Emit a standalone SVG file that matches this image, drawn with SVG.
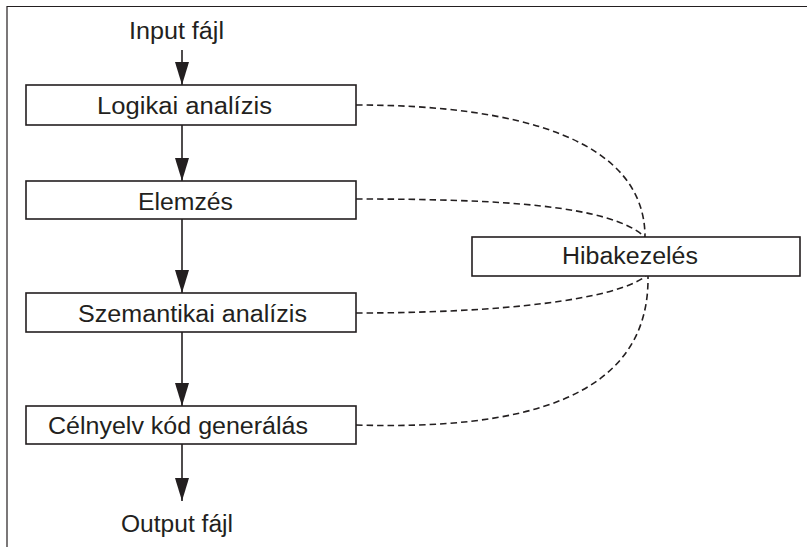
<svg xmlns="http://www.w3.org/2000/svg" width="807" height="547" viewBox="0 0 807 547">
<style>
.box{fill:#fff;stroke:#231f20;stroke-width:1.6}
.lbl{font-family:"Liberation Sans",Arial,sans-serif;font-size:23px;fill:#231f20;text-anchor:middle}
.flow{stroke:#231f20;stroke-width:1.6;fill:none;marker-end:url(#ah)}
.err{stroke:#231f20;stroke-width:1.6;fill:none;stroke-dasharray:6.5 4}
.frame{stroke:#231f20;stroke-width:1.2;fill:none}
</style>
<defs>
<marker id="ah" markerUnits="userSpaceOnUse" markerWidth="24" markerHeight="16" refX="23" refY="7" orient="auto">
<path d="M0,0 L23,7 L0,14 Z" fill="#231f20"/>
</marker>
</defs>
<rect width="807" height="547" fill="#fff"/>
<path class="frame" d="M7,547 V6.5 H807"/>
<g id="connectors">
<line class="flow" x1="182" y1="50" x2="182" y2="85"/>
<line class="flow" x1="182" y1="125" x2="182" y2="181"/>
<line class="flow" x1="182" y1="219" x2="182" y2="293"/>
<line class="flow" x1="182" y1="332" x2="182" y2="406"/>
<line class="flow" x1="182" y1="444" x2="182" y2="501"/>
<path class="err" d="M356,105 C520,105 645,140 645,237"/>
<path class="err" d="M356,199 C500,199 610,205 645,237"/>
<path class="err" d="M356,313 C500,313 615,300 646,276"/>
<path class="err" d="M356,425 C520,430 650,400 648,276"/>
</g>
<g id="input"><text class="lbl" x="176.5" y="39" textLength="95" lengthAdjust="spacingAndGlyphs">Input fájl</text></g>
<g id="logikai">
<rect class="box" x="26" y="85" width="330" height="40"/>
<text class="lbl" x="184.5" y="114" textLength="175" lengthAdjust="spacingAndGlyphs">Logikai analízis</text>
</g>
<g id="elemzes">
<rect class="box" x="26" y="181" width="330" height="38"/>
<text class="lbl" x="185.5" y="210" textLength="95" lengthAdjust="spacingAndGlyphs">Elemzés</text>
</g>
<g id="szemantikai">
<rect class="box" x="26" y="293" width="330" height="39"/>
<text class="lbl" x="192.5" y="322" textLength="229" lengthAdjust="spacingAndGlyphs">Szemantikai analízis</text>
</g>
<g id="celnyelv">
<rect class="box" x="26" y="406" width="330" height="38"/>
<text class="lbl" x="178" y="434" textLength="260" lengthAdjust="spacingAndGlyphs">Célnyelv kód generálás</text>
</g>
<g id="hibakezeles">
<rect class="box" x="472" y="237" width="328" height="39"/>
<text class="lbl" x="630" y="264" textLength="136" lengthAdjust="spacingAndGlyphs">Hibakezelés</text>
</g>
<g id="output"><text class="lbl" x="177" y="532" textLength="112" lengthAdjust="spacingAndGlyphs">Output fájl</text></g>
</svg>
